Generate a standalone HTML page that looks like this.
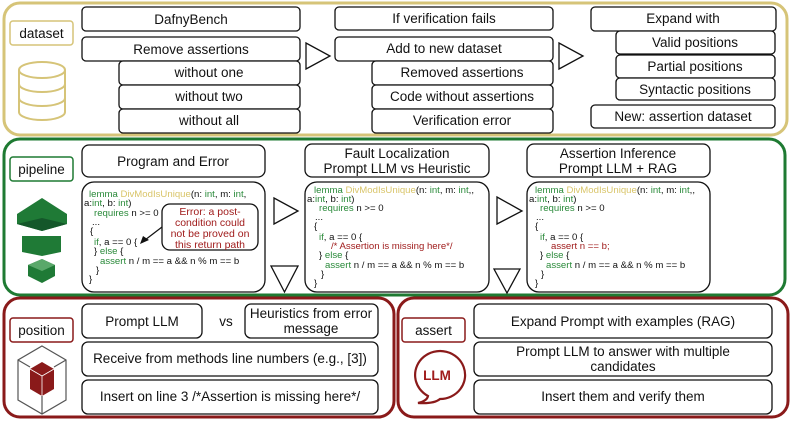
<!DOCTYPE html>
<html><head><meta charset="utf-8"><style>
html,body{margin:0;padding:0;background:#fff;}
svg{display:block;font-family:"Liberation Sans",Arial,sans-serif;}
.b{fill:#fff;stroke:#111;stroke-width:1.3;}
.t{font-size:13.5px;fill:#111;text-anchor:middle;}
.c{font-size:9.6px;fill:#111;}
.g{fill:#2a8a3a;}
.y{fill:#d9c56a;}
.r{fill:#a01c1c;}
.tri{fill:#fff;stroke:#111;stroke-width:1.3;}
</style></head><body>
<svg width="793" height="430" viewBox="0 0 793 430" xmlns="http://www.w3.org/2000/svg">
<rect x="4" y="3" width="783" height="132" rx="16" fill="#fff" stroke="#d6c478" stroke-width="3"/>
<rect x="4" y="139" width="781" height="156" rx="16" fill="#fff" stroke="#1e7a32" stroke-width="3"/>
<rect x="4" y="298" width="390" height="119" rx="16" fill="#fff" stroke="#8a1a1a" stroke-width="3"/>
<rect x="398" y="298" width="390" height="119" rx="16" fill="#fff" stroke="#8a1a1a" stroke-width="3"/>

<rect x="10" y="21" width="63" height="24" rx="3" fill="#fff" stroke="#d6c478" stroke-width="1.5"/>
<text x="41.5" y="38" class="t" font-size="13">dataset</text>
<g fill="#fff" stroke="#d6c478" stroke-width="2">
<path d="M19 70 v42 a23 8 0 0 0 46 0 v-42"/>
<ellipse cx="42" cy="70" rx="23" ry="8"/>
<path d="M19 84 a23 8 0 0 0 46 0 M19 98 a23 8 0 0 0 46 0"/>
</g>
<rect class="b" x="82" y="7" width="218" height="24" rx="4"/><text class="t" x="191" y="24">DafnyBench</text>
<rect class="b" x="82" y="37" width="218" height="24" rx="4"/><text class="t" x="191" y="54">Remove assertions</text>
<rect class="b" x="119" y="61" width="181" height="24" rx="4"/><text class="t" x="209" y="77">without one</text>
<rect class="b" x="119" y="85" width="181" height="24" rx="4"/><text class="t" x="209" y="101">without two</text>
<rect class="b" x="119" y="109" width="181" height="24" rx="4"/><text class="t" x="209" y="125">without all</text>
<polygon class="tri" points="306,43 306,69 330,56"/>
<rect class="b" x="335" y="7" width="218" height="23" rx="4"/><text class="t" x="444" y="23">If verification fails</text>
<rect class="b" x="335" y="37" width="218" height="24" rx="4"/><text class="t" x="444" y="53">Add to new dataset</text>
<rect class="b" x="372" y="61" width="181" height="24" rx="4"/><text class="t" x="462" y="77">Removed assertions</text>
<rect class="b" x="372" y="85" width="181" height="24" rx="4"/><text class="t" x="462" y="101">Code without assertions</text>
<rect class="b" x="372" y="109" width="181" height="24" rx="4"/><text class="t" x="462" y="125">Verification error</text>
<polygon class="tri" points="559,43 559,69 583,56"/>
<rect class="b" x="591" y="7" width="185" height="24" rx="4"/><text class="t" x="683" y="23">Expand with</text>
<rect class="b" x="616" y="31" width="159" height="23" rx="4"/><text class="t" x="695" y="47">Valid positions</text>
<rect class="b" x="616" y="55" width="159" height="23" rx="4"/><text class="t" x="695" y="71">Partial positions</text>
<rect class="b" x="616" y="78" width="159" height="22" rx="4"/><text class="t" x="695" y="94">Syntactic positions</text>
<rect class="b" x="591" y="105" width="184" height="23" rx="4"/><text class="t" x="683" y="121">New: assertion dataset</text>

<rect x="10" y="157" width="63" height="24" rx="3" fill="#fff" stroke="#1e7a32" stroke-width="1.5"/>
<text x="41.5" y="174" class="t" font-size="13">pipeline</text>
<polygon points="42,198 67,214 67,224 42,231 17,224 17,214" fill="#1f7a36"/>
<polygon points="42,218 67,224 42,231 17,224" fill="#14572a"/>
<polygon points="22,236 61,236 61,252 42,256 22,252" fill="#1f7a36"/>
<polygon points="42,259 55,265 55,276 42,283 28,276 28,265" fill="#1f7a36"/>
<polygon points="42,259 55,265 42,271 28,265" fill="#5aa86a"/>

<rect class="b" x="82" y="145" width="183" height="32" rx="7"/><text class="t" x="173" y="166" font-size="14.5">Program and Error</text>
<rect class="b" x="82" y="182" width="183" height="110" rx="12"/>
<g class="c">
<text x="89" y="197"><tspan class="g">lemma </tspan><tspan class="y">DivModIsUnique</tspan>(n: <tspan class="g">int</tspan>, m: <tspan class="g">int</tspan>,</text>
<text x="84" y="206">a:<tspan class="g">int</tspan>, b: <tspan class="g">int</tspan>)</text>
<text x="94" y="216"><tspan class="g">requires</tspan> n &gt;= 0</text>
<text x="92" y="225">...</text>
<text x="90" y="234">{</text>
<text x="94" y="245"><tspan class="g">if</tspan>, a == 0 {</text>
<text x="94" y="254">} <tspan class="g">else</tspan> {</text>
<text x="100" y="264"><tspan class="g">assert</tspan> n / m == a &amp;&amp; n % m == b</text>
<text x="96" y="273">}</text>
<text x="89" y="282">}</text>
</g>
<rect class="b" x="162" y="204" width="96" height="46" rx="8"/>
<g class="r" font-size="10.5" text-anchor="middle"><text x="210" y="215">Error: a post-</text><text x="210" y="226">condition could</text><text x="210" y="237">not be proved on</text><text x="210" y="248">this return path</text></g>
<line x1="162" y1="227" x2="145" y2="240" stroke="#111" stroke-width="1.2"/>
<polygon points="140,244 143,236 149,240" fill="#111"/>

<polygon class="tri" points="274,198 274,224 298,211"/>
<polygon class="tri" points="271,266 298,266 284.5,292"/>

<rect class="b" x="305" y="144" width="184" height="33" rx="7"/>
<text class="t" x="397" y="158" font-size="14">Fault Localization</text><text class="t" x="397" y="173" font-size="14">Prompt LLM vs Heuristic</text>
<rect class="b" x="305" y="182" width="184" height="110" rx="12"/>
<g class="c">
<text x="314" y="193"><tspan class="g">lemma </tspan><tspan class="y">DivModIsUnique</tspan>(n: <tspan class="g">int</tspan>, m: <tspan class="g">int</tspan>,,</text>
<text x="307" y="202">a:<tspan class="g">int</tspan>, b: <tspan class="g">int</tspan>)</text>
<text x="319" y="211"><tspan class="g">requires</tspan> n &gt;= 0</text>
<text x="315" y="220">...</text>
<text x="314" y="229">{</text>
<text x="319" y="240"><tspan class="g">if</tspan>, a == 0 {</text>
<text x="331" y="249" class="r">/* Assertion is missing here*/</text>
<text x="319" y="258">} <tspan class="g">else</tspan> {</text>
<text x="325" y="268"><tspan class="g">assert</tspan> n / m == a &amp;&amp; n % m == b</text>
<text x="321" y="277">}</text>
<text x="314" y="286">}</text>
</g>

<polygon class="tri" points="497,197 497,224 522,211"/>
<polygon class="tri" points="494,269 520,269 507,293"/>

<rect class="b" x="527" y="144" width="183" height="33" rx="7"/>
<text class="t" x="618" y="158" font-size="14">Assertion Inference</text><text class="t" x="618" y="173" font-size="14">Prompt LLM + RAG</text>
<rect class="b" x="527" y="182" width="183" height="110" rx="12"/>
<g class="c">
<text x="535" y="193"><tspan class="g">lemma </tspan><tspan class="y">DivModIsUnique</tspan>(n: <tspan class="g">int</tspan>, m: <tspan class="g">int</tspan>,,</text>
<text x="529" y="202">a:<tspan class="g">int</tspan>, b: <tspan class="g">int</tspan>)</text>
<text x="540" y="211"><tspan class="g">requires</tspan> n &gt;= 0</text>
<text x="536" y="220">...</text>
<text x="535" y="229">{</text>
<text x="540" y="240"><tspan class="g">if</tspan>, a == 0 {</text>
<text x="551" y="249" class="r">assert n == b;</text>
<text x="540" y="258">} <tspan class="g">else</tspan> {</text>
<text x="546" y="268"><tspan class="g">assert</tspan> n / m == a &amp;&amp; n % m == b</text>
<text x="541" y="277">}</text>
<text x="535" y="286">}</text>
</g>

<rect x="10" y="318" width="63" height="24" rx="3" fill="#fff" stroke="#8a1a1a" stroke-width="1.5"/>
<text x="41.5" y="335" class="t" font-size="13">position</text>
<g stroke="#555" stroke-width="1.2" fill="none">
<polygon points="42,346 66,360 66,400 42,414 18,400 18,360"/>
<line x1="42" y1="414" x2="42" y2="396"/><line x1="18" y1="360" x2="30" y2="367"/><line x1="66" y1="360" x2="54" y2="367"/>
</g>
<polygon points="42,362 54,369 54,389 42,396 30,389 30,369" fill="#8a1a1a"/>
<polyline points="30,369 42,376 54,369" fill="none" stroke="#fff" stroke-width="0.8"/>
<line x1="42" y1="376" x2="42" y2="396" stroke="#fff" stroke-width="0.8"/>

<rect class="b" x="82" y="304" width="120" height="34" rx="6"/><text class="t" x="142" y="326">Prompt LLM</text>
<text class="t" x="226" y="326">vs</text>
<rect class="b" x="245" y="304" width="133" height="34" rx="6"/><text class="t" x="311" y="318">Heuristics from error</text><text class="t" x="311" y="333">message</text>
<rect class="b" x="82" y="342" width="296" height="34" rx="6"/><text class="t" x="230" y="363">Receive from methods line numbers (e.g., [3])</text>
<rect class="b" x="82" y="380" width="296" height="34" rx="6"/><text class="t" x="230" y="401">Insert on line 3 /*Assertion is missing here*/</text>

<rect x="402" y="318" width="63" height="24" rx="3" fill="#fff" stroke="#8a1a1a" stroke-width="1.5"/>
<text x="433.5" y="335" class="t" font-size="13">assert</text>
<path d="M428 396 A25 24 0 1 1 440 399 Q434 404 418 403 Q427 401 428 396 Z" fill="#fff" stroke="#8a1a1a" stroke-width="2.2"/>
<text x="437" y="380" class="t r" font-size="14" font-weight="bold">LLM</text>
<rect class="b" x="474" y="304" width="298" height="34" rx="6"/><text class="t" x="623" y="326">Expand Prompt with examples (RAG)</text>
<rect class="b" x="474" y="342" width="298" height="34" rx="6"/><text class="t" x="623" y="356">Prompt LLM to answer with multiple</text><text class="t" x="623" y="371">candidates</text>
<rect class="b" x="474" y="380" width="298" height="34" rx="6"/><text class="t" x="623" y="401">Insert them and verify them</text>
</svg>
</body></html>
